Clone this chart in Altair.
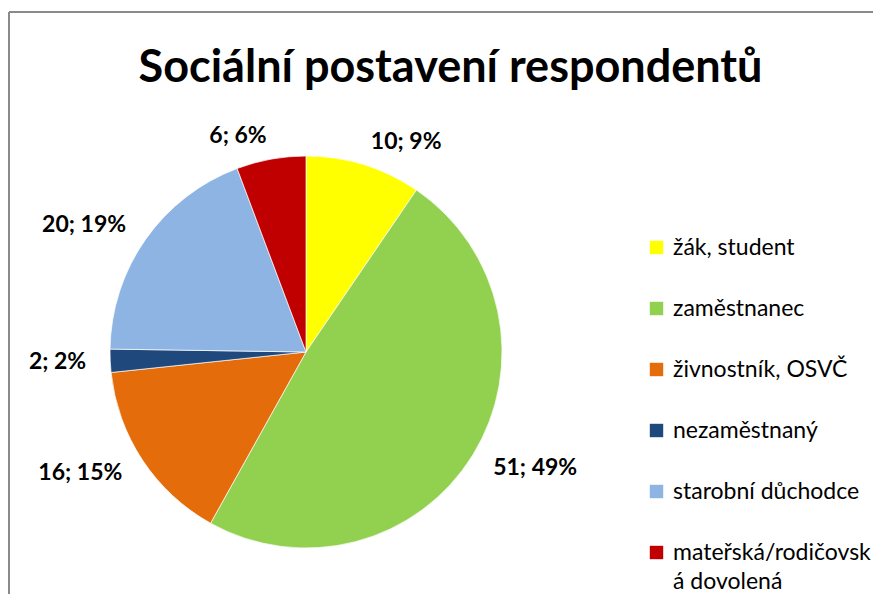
import altair as alt
import pandas as pd

categories = ["žák, student", "zaměstnanec", "živnostník, OSVČ", "nezaměstnaný",
              "starobní důchodce", "mateřská/rodičovská dovolená"]
counts = [10, 51, 16, 2, 20, 6]
percents = [9, 49, 15, 2, 19, 6]
colors = ["#FFFF00", "#92D050", "#E46C0A", "#1F497D", "#8DB4E2", "#C00000"]
title_text = "Sociální postavení respondentů"

total = sum(counts)
df = pd.DataFrame({
    "cat": categories,
    "value": counts,
    "idx": list(range(len(categories))),
    "label": [f"{c}; {p}%" for c, p in zip(counts, percents)],
})

CX, CY, R = 296, 244, 196
FONT = "Lato"

color_scale = alt.Scale(domain=categories, range=colors)
theta_scale = alt.Scale(domain=[0, total])

base = alt.Chart(df)

pie = base.mark_arc(outerRadius=R, stroke="#ffffff", strokeWidth=0.7).encode(
    theta=alt.Theta("value:Q", stack=True, scale=theta_scale),
    order=alt.Order("idx:Q"),
    color=alt.Color(
        "cat:N",
        scale=color_scale,
        sort=categories,
        title=None,
        legend=alt.Legend(
            orient="none",
            legendX=635,
            legendY=128,
            symbolType="square",
            symbolSize=180,
            symbolStrokeWidth=0,
            labelFont=FONT,
            labelFontSize=23,
            labelColor="#000000",
            labelOffset=5,
            labelLimit=400,
            rowPadding=37,
            labelExpr="datum.label == 'mateřská/rodičovská dovolená' ? ['mateřská/rodičovsk', 'á dovolená'] : datum.label",
        ),
    ),
    x=alt.value(CX),
    y=alt.value(CY),
)

lab_base = base.transform_window(
    cum="sum(value)", sort=[alt.SortField("idx")], frame=[None, 0]
).transform_calculate(
    mid="datum.cum - datum.value / 2"
)

right_labels = lab_base.transform_filter(
    f"datum.mid < {total} / 2"
).mark_text(radius=220, align="left", baseline="middle", font=FONT,
            fontSize=23, fontWeight="bold", color="#000000").encode(
    theta=alt.Theta("mid:Q", stack=False, scale=theta_scale),
    text="label:N",
    x=alt.value(CX),
    y=alt.value(CY),
)

left_labels = lab_base.transform_filter(
    f"datum.mid >= {total} / 2"
).mark_text(radius=220, align="right", baseline="middle", font=FONT,
            fontSize=23, fontWeight="bold", color="#000000").encode(
    theta=alt.Theta("mid:Q", stack=False, scale=theta_scale),
    text="label:N",
    x=alt.value(CX),
    y=alt.value(CY),
)

one = pd.DataFrame({"a": [0]})
top_border = alt.Chart(one).mark_rule(color="#8a8a8a", strokeWidth=2).encode(
    x=alt.value(-1), x2=alt.value(880), y=alt.value(-96)
)
left_border = alt.Chart(one).mark_rule(color="#8a8a8a", strokeWidth=2).encode(
    x=alt.value(-1), y=alt.value(-96), y2=alt.value(600)
)

chart = alt.layer(top_border, left_border, pie, right_labels, left_labels).properties(
    width=863,
    height=486,
    padding={"left": 2, "top": 100, "right": 0, "bottom": 0},
    autosize=alt.AutoSizeParams(type="none"),
    title=alt.TitleParams(
        text=title_text,
        font=FONT,
        fontSize=45,
        fontWeight="bold",
        color="#000000",
        anchor="middle",
        dx=9,
        offset=-80,
    ),
).configure(
    view=alt.ViewConfig(stroke=None),
    style={"guide-label": {"lineHeight": 29}},
)

chart.save("out.html", embed_options={"renderer": "svg", "actions": False})
